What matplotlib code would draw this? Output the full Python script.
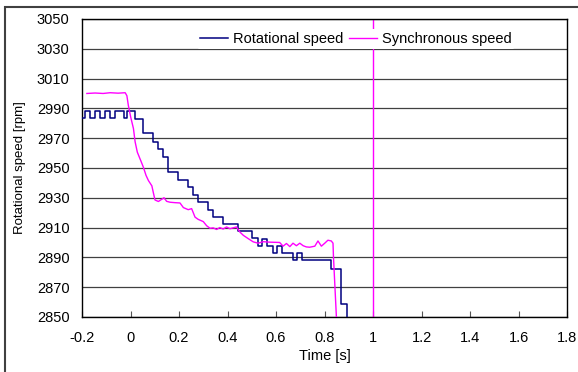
import matplotlib
matplotlib.use("Agg")
import matplotlib.pyplot as plt
from matplotlib.patches import Rectangle

plt.rcParams['font.family'] = ['Liberation Sans', 'DejaVu Sans']

# rotational speed: step changes (time [s], rpm)
rot_t = [-0.2, -0.187, -0.166, -0.146, -0.125, -0.105, -0.084, -0.063, -0.026,
         -0.013, 0.019, 0.053, 0.094, 0.114, 0.135, 0.156, 0.197, 0.238, 0.259,
         0.277, 0.318, 0.341, 0.382, 0.444, 0.499, 0.526, 0.544, 0.563, 0.586,
         0.605, 0.623, 0.670, 0.687, 0.709, 0.828, 0.870, 0.893, 0.91]
rot_v = [2983.6, 2988, 2983.6, 2988, 2983.6, 2988, 2983.6, 2988, 2983.6,
         2988, 2983, 2973.5, 2967.5, 2962.5, 2957.5, 2947.5, 2942, 2937, 2932,
         2927, 2922, 2917, 2912.5, 2907.5, 2903, 2897.5, 2902, 2897.5, 2893,
         2897.5, 2893, 2888, 2893, 2888, 2882.5, 2859, 2835, 2835]

# synchronous speed
syn_t = [-0.180, -0.146, -0.113, -0.084, -0.051, -0.022, -0.015, -0.009, 0.001,
         0.012, 0.019, 0.028, 0.042, 0.053, 0.064, 0.074, 0.088, 0.094, 0.101,
         0.115, 0.129, 0.138, 0.149, 0.163, 0.184, 0.204, 0.218, 0.238, 0.252,
         0.266, 0.279, 0.300, 0.314, 0.328, 0.341, 0.355, 0.368, 0.382, 0.396,
         0.410, 0.423, 0.437, 0.451, 0.465, 0.485, 0.506, 0.526, 0.547, 0.574,
         0.615, 0.629, 0.643, 0.657, 0.670, 0.684, 0.698, 0.712, 0.725, 0.739,
         0.760, 0.773, 0.787, 0.801, 0.814, 0.828, 0.835, 0.837, 0.849, 0.855]
syn_v = [3000, 3000.3, 3000, 3000.5, 3000.2, 3000.5, 2998.5, 2992, 2984,
         2976.5, 2967.5, 2960.6, 2955, 2950.5, 2945, 2941.5, 2938, 2933.5, 2928.5,
         2927.5, 2929, 2930, 2927.6, 2927, 2926.7, 2926.5, 2923.4, 2922, 2922.7,
         2917, 2915.5, 2914, 2911.2, 2909.5, 2909.8, 2908.7, 2910, 2909, 2910.4,
         2909.2, 2909.8, 2910.4, 2907, 2904.8, 2902.6, 2900.4, 2899.5, 2900.5, 2900.2,
         2900, 2897.5, 2899.3, 2897.2, 2899.5, 2897.8, 2899.5, 2897.8, 2897, 2896.8,
         2897.5, 2901, 2897.5, 2899.5, 2901.5, 2901, 2899.5, 2890, 2850, 2835]

marker_t = 1.0

x_ticks = [-0.2, 0, 0.2, 0.4, 0.6, 0.8, 1, 1.2, 1.4, 1.6, 1.8]
x_labels = ['-0.2', '0', '0.2', '0.4', '0.6', '0.8', '1', '1.2', '1.4', '1.6', '1.8']
y_ticks = list(range(2850, 3051, 20))

fig = plt.figure(figsize=(5.78, 3.72), dpi=100)
ax = fig.add_axes([0.1419, 0.148, 0.8391, 0.801])

ax.axvline(marker_t, color='#ff00ff', lw=1.0, zorder=2)
ax.plot(rot_t, rot_v, drawstyle='steps-post', color='#000080', lw=1.1,
        label='Rotational speed', zorder=3)
ax.plot(syn_t, syn_v, color='#ff00ff', lw=1.0, label='Synchronous speed', zorder=3)

ax.set_xlim(-0.2, 1.8)
ax.set_ylim(2850, 3050)
ax.set_xticks(x_ticks)
ax.set_xticklabels(x_labels)
ax.set_yticks(y_ticks)
ax.yaxis.grid(True, color='#404040', lw=0.9)
ax.set_axisbelow(True)
ax.tick_params(axis='x', direction='in', length=4, width=0.8, color='#555555',
               labelsize=10.5, pad=10)
ax.tick_params(axis='y', length=0, labelsize=10.5, pad=9)
for s in ax.spines.values():
    s.set_color('black')
    s.set_linewidth(1.0)

ax.set_xlabel('Time [s]', fontsize=10.5, labelpad=3)
ax.set_ylabel('Rotational speed [rpm]', fontsize=9.5, labelpad=8)

leg = ax.legend(loc='center', bbox_to_anchor=(0.565, 0.933), ncol=2, fontsize=10.5,
                handlelength=1.9, handletextpad=0.35, columnspacing=0.4,
                frameon=True, borderpad=0.2, borderaxespad=0)
leg.get_frame().set_facecolor('white')
leg.get_frame().set_edgecolor('none')
leg.get_frame().set_alpha(1.0)
leg.set_zorder(5)

fig.patches.append(Rectangle((5 / 578, -0.05), 1.2, 1 - 7 / 372 + 0.05,
                             transform=fig.transFigure, fill=False,
                             edgecolor='#404040', lw=1.5))

fig.savefig('out.png', dpi=100)
